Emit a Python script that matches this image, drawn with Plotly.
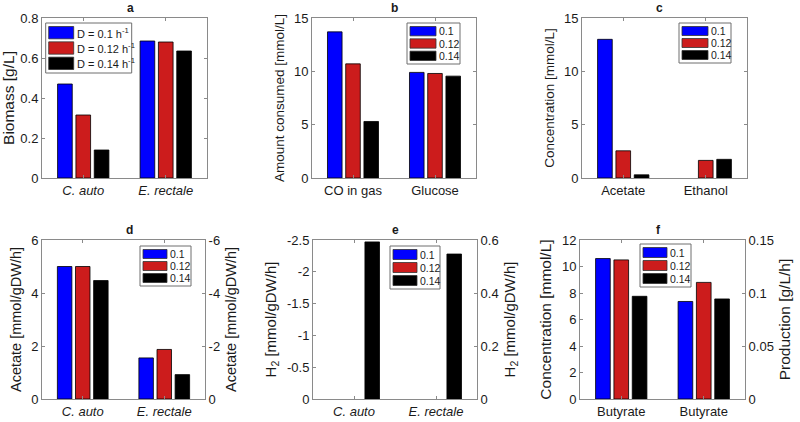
import plotly.graph_objects as go

W, H = 800, 422
FONT = "Arial, Liberation Sans, Helvetica, sans-serif"

colors = ["#0000ff", "#cc1c1c", "#000000"]
series = ["0.1", "0.12", "0.14"]
series_a = ["D = 0.1 h<sup>-1</sup>", "D = 0.12 h<sup>-1</sup>", "D = 0.14 h<sup>-1</sup>"]

# categories
org_cats = ["<i>C. auto</i>", "<i>E. rectale</i>"]
b_cats = ["CO in gas", "Glucose"]
c_cats = ["Acetate", "Ethanol"]
f_cats = ["Butyrate", "Butyrate"]

# a: biomass [g/L], rows = D 0.1 / 0.12 / 0.14, cols = C. auto / E. rectale
a_vals = [[0.47, 0.685], [0.315, 0.68], [0.14, 0.635]]
# b: amount consumed [mmol/L]
b_vals = [[13.7, 9.9], [10.7, 9.8], [5.3, 9.55]]
# c: concentration [mmol/L]
c_vals = [[13.0, None], [2.55, 1.65], [0.3, 1.75]]
# d: acetate flux, C. auto on left axis, E. rectale on right axis (uptake, negative)
d_left = [5.0, 5.0, 4.47]
d_right = [-1.55, -1.87, -0.92]
# e: H2 flux, C. auto on left axis (uptake), E. rectale on right axis
e_left = [None, None, -2.47]
e_right = [None, None, 0.547]
# f: butyrate concentration (left) and production (right)
f_left = [10.6, 10.5, 7.75]
f_right = [0.092, 0.110, 0.0944]

# tick labels
a_ticks = [0, 0.2, 0.4, 0.6, 0.8]
a_ticktext = ["0", "0.2", "0.4", "0.6", "0.8"]
bc_ticks = [0, 5, 10, 15]
d_ticks = [0, 2, 4, 6]
d_rticks = [0, -2, -4, -6]
d_rticktext = ["0", "-2", "-4", "-6"]
e_ticks = [0, -0.5, -1, -1.5, -2, -2.5]
e_ticktext = ["0", "-0.5", "-1", "-1.5", "-2", "-2.5"]
e_rticks = [0, 0.2, 0.4, 0.6]
f_ticks = [0, 2, 4, 6, 8, 10, 12]
f_rticks = [0, 0.05, 0.1, 0.15]
f_rticktext = ["0", "0.05", "0.1", "0.15"]

SLOT = 2 / 9
BW = SLOT * 0.8
LINE = "#8a8a8a"
TXT = "#1a1a1a"


def px(x):
    return x / W


def py(y):
    return 1 - y / H


def bar(x, y, i, xa, ya):
    return go.Bar(
        x=x, y=y, width=BW, offset=-1 / 3 + i * SLOT + SLOT * 0.1,
        marker=dict(color=colors[i], line=dict(color="black", width=0.8)),
        xaxis=xa, yaxis=ya, showlegend=False, hoverinfo="x+y",
    )


fig = go.Figure()

# top row: one axis each
for k, vals in zip(["", "2", "3"], [a_vals, b_vals, c_vals]):
    for i in range(3):
        fig.add_trace(bar([1, 2], vals[i], i, "x" + k, "y" + k))

# bottom row: left axis holds first group, right axis the second
for k, kr, left, right in [("4", "7", d_left, d_right),
                           ("5", "8", e_left, e_right),
                           ("6", "9", f_left, f_right)]:
    for i in range(3):
        fig.add_trace(bar([1], [left[i]], i, "x" + k, "y" + k))
        fig.add_trace(bar([2], [right[i]], i, "x" + k, "y" + kr))

# panel boxes in pixels: left, top, right, bottom
boxes = {
    "": (42, 18, 207, 178),
    "2": (312, 18, 476, 178),
    "3": (582, 18, 747, 178),
    "4": (42, 240, 205, 399),
    "5": (313, 240, 477, 399),
    "6": (580, 240, 745, 399),
}

ax_common = dict(
    showline=True, linecolor=LINE, linewidth=1, ticks="inside", ticklen=3,
    tickcolor=LINE, showgrid=False, zeroline=False, automargin=False,
    tickfont=dict(size=13, color=TXT, family=FONT),
)

xcats = {"": org_cats, "2": b_cats, "3": c_cats, "4": org_cats, "5": org_cats, "6": f_cats}
for k, (l, t, r, b) in boxes.items():
    fig.layout["xaxis" + k] = dict(
        ax_common, domain=[px(l), px(r)], anchor="y" + k, range=[0.5, 2.5],
        tickvals=[1, 2], ticktext=xcats[k], mirror="ticks",
    )

ytitle = dict(standoff=6)


def yax(k, rng, tv, tt, title, size, mirror="ticks"):
    l, t, r, b = boxes[k]
    fig.layout["yaxis" + k] = dict(
        ax_common, domain=[py(b), py(t)], anchor="x" + k, range=rng,
        tickvals=tv, ticktext=tt, mirror=mirror,
        title=dict(ytitle, text=title, font=dict(size=size, color=TXT, family=FONT)),
    )


def yax_right(kr, k, rng, tv, tt, title, size):
    fig.layout["yaxis" + kr] = dict(
        ax_common, overlaying="y" + k, anchor="x" + k, side="right", range=rng,
        tickvals=tv, ticktext=tt,
        title=dict(ytitle, text=title, font=dict(size=size, color=TXT, family=FONT)),
    )


yax("", [0, 0.8], a_ticks, a_ticktext, "Biomass [g/L]", 15.5)
yax("2", [0, 15], bc_ticks, [str(v) for v in bc_ticks], "Amount consumed [mmol/L]", 13.5)
yax("3", [0, 15], bc_ticks, [str(v) for v in bc_ticks], "Concentration [mmol/L]", 13.5)
yax("4", [0, 6], d_ticks, [str(v) for v in d_ticks], "Acetate [mmol/gDW/h]", 14.5, mirror=True)
yax("5", [0, -2.5], e_ticks, e_ticktext, "H<sub>2</sub> [mmol/gDW/h]", 15, mirror=True)
yax("6", [0, 12], f_ticks, [str(v) for v in f_ticks], "Concentration [mmol/L]", 15.5, mirror=True)
yax_right("7", "4", [0, -6], d_rticks, d_rticktext, "Acetate [mmol/gDW/h]", 14.5)
yax_right("8", "5", [0, 0.6], e_rticks, [str(v) for v in e_rticks], "H<sub>2</sub> [mmol/gDW/h]", 15)
yax_right("9", "6", [0, 0.15], f_rticks, f_rticktext, "Production [g/L/h]", 15.5)

# panel letters
for k, letter in zip(boxes, "abcdef"):
    l, t, r, b = boxes[k]
    fig.add_annotation(
        x=px((l + r) / 2), y=py(t - 10.5), xref="paper", yref="paper",
        text="<b>%s</b>" % letter, showarrow=False, yanchor="middle",
        font=dict(size=12, color=TXT, family=FONT),
    )


# MATLAB-style legend boxes
def add_legend(x0, y0, x1, y1, labels, size, sw=26):
    fig.add_shape(type="rect", xref="paper", yref="paper",
                  x0=px(x0), x1=px(x1), y0=py(y0), y1=py(y1),
                  line=dict(color="#6e6e6e", width=1), fillcolor="white")
    row = (y1 - y0 - 4) / 3
    for i, lab in enumerate(labels):
        top = y0 + 2 + i * row + 1.5
        bot = y0 + 2 + (i + 1) * row - 1.5
        fig.add_shape(type="rect", xref="paper", yref="paper",
                      x0=px(x0 + 3), x1=px(x0 + 3 + sw), y0=py(bot), y1=py(top),
                      line=dict(color="#333", width=0.8), fillcolor=colors[i])
        fig.add_annotation(x=px(x0 + 4 + sw), y=py((top + bot) / 2),
                           xref="paper", yref="paper", text=lab, showarrow=False,
                           xanchor="left", yanchor="middle",
                           font=dict(size=size, color=TXT, family=FONT))


add_legend(45.7, 23, 131.7, 73, series_a, 11, sw=25)
add_legend(407, 23, 460, 64, series, 10.5)
add_legend(679, 23, 731, 63, series, 10.5)
add_legend(140, 246, 191, 286, series, 10.5, sw=24)
add_legend(390, 246, 440, 289, series, 10.5, sw=24)
add_legend(640, 244, 691, 287, series, 10.5, sw=24)

fig.update_layout(
    width=W, height=H, margin=dict(l=0, r=0, t=0, b=0),
    barmode="overlay", plot_bgcolor="white", paper_bgcolor="white",
    font=dict(family=FONT, color=TXT), showlegend=False,
)

fig.write_html("out.html", config={"displayModeBar": False},
               post_script="document.body.style.margin='0';")
